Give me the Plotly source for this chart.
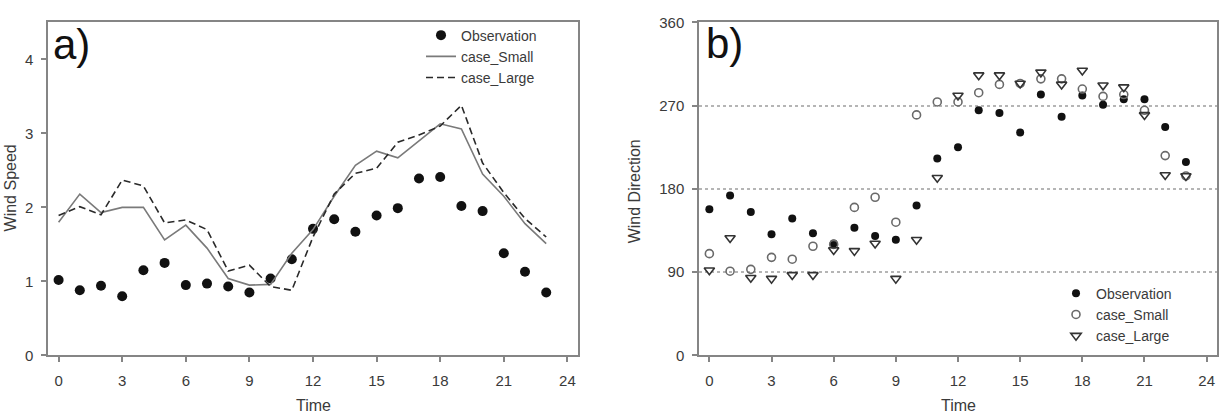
import plotly.graph_objects as go

# ---------------- data ----------------
hours = list(range(24))

speed_obs = [1.02, 0.88, 0.94, 0.80, 1.15, 1.25, 0.95, 0.97, 0.93, 0.85, 1.04, 1.30,
             1.71, 1.84, 1.67, 1.89, 1.99, 2.39, 2.41, 2.02, 1.95, 1.38, 1.13, 0.85]
speed_small = [1.80, 2.18, 1.93, 2.00, 2.00, 1.56, 1.76, 1.45, 1.04, 0.95, 0.96, 1.38,
               1.70, 2.15, 2.57, 2.76, 2.67, 2.90, 3.13, 3.06, 2.45, 2.15, 1.78, 1.51]
speed_large = [1.89, 2.01, 1.90, 2.37, 2.29, 1.79, 1.83, 1.70, 1.14, 1.22, 0.93, 0.88,
               1.60, 2.18, 2.46, 2.53, 2.88, 2.98, 3.10, 3.38, 2.60, 2.20, 1.85, 1.60]

dir_obs = [158, 173, 155, 131, 148, 132, 121, 138, 129, 125, 162, 213,
           225, 265, 262, 241, 282, 258, 281, 271, 277, 277, 247, 209]
dir_small = [110, 91, 93, 106, 104, 118, 120, 160, 171, 144, 260, 274,
             274, 284, 293, 294, 299, 299, 288, 280, 282, 265, 216, 194]
dir_large = [92, 127, 84, 83, 87, 87, 114, 113, 121, 83, 125, 192,
             281, 303, 303, 294, 306, 293, 308, 292, 290, 260, 195, 194]

time_ticks = [0, 3, 6, 9, 12, 15, 18, 21, 24]
speed_ticks = [0, 1, 2, 3, 4]
dir_ticks = [0, 90, 180, 270, 360]

# ---------------- layout helpers ----------------
W, H = 1224, 420


def px(x):
    return x / W


def py(y):
    return 1 - y / H


FONT = "Liberation Sans, Arial, sans-serif"
TXT = "#3a3a3a"
AX = "#858585"

fig = go.Figure()

# panel a
fig.add_trace(go.Scatter(x=hours, y=speed_obs, mode="markers", name="Observation",
                         marker=dict(color="#111111", size=10),
                         xaxis="x", yaxis="y", legend="legend"))
fig.add_trace(go.Scatter(x=hours, y=speed_small, mode="lines", name="case_Small",
                         line=dict(color="#7a7a7a", width=1.6),
                         xaxis="x", yaxis="y", legend="legend"))
fig.add_trace(go.Scatter(x=hours, y=speed_large, mode="lines", name="case_Large",
                         line=dict(color="#2a2a2a", width=1.6, dash="7px,4px"),
                         xaxis="x", yaxis="y", legend="legend"))

# panel b
fig.add_trace(go.Scatter(x=hours, y=dir_obs, mode="markers", name="Observation",
                         marker=dict(color="#111111", size=8),
                         xaxis="x2", yaxis="y2", legend="legend2"))
fig.add_trace(go.Scatter(x=hours, y=dir_small, mode="markers", name="case_Small",
                         marker=dict(symbol="circle-open", color="#6a6a6a", size=8,
                                     line=dict(width=1.6)),
                         xaxis="x2", yaxis="y2", legend="legend2"))
fig.add_trace(go.Scatter(x=hours, y=dir_large, mode="markers", name="case_Large",
                         marker=dict(symbol="triangle-down-open", color="#333333", size=9,
                                     line=dict(width=1.6)),
                         xaxis="x2", yaxis="y2", legend="legend2"))

common_axis = dict(showline=True, linecolor=AX, linewidth=1.5, mirror=True,
                   ticks="outside", ticklen=5, tickcolor=AX, tickwidth=1.5,
                   zeroline=False, tickfont=dict(family=FONT, size=15, color=TXT))

fig.update_layout(
    width=W, height=H, autosize=False,
    margin=dict(l=0, r=0, t=0, b=0),
    paper_bgcolor="white", plot_bgcolor="white",
    font=dict(family=FONT, color=TXT),
    xaxis=dict(domain=[px(48), px(578)], range=[-0.5, 24.5], tickvals=time_ticks,
               anchor="y", showgrid=False, ticklabelstandoff=6, **common_axis),
    yaxis=dict(domain=[py(361), py(14)], range=[0, 4.5], tickvals=speed_ticks,
               anchor="x", showgrid=False, ticklabelstandoff=5, **common_axis),
    xaxis2=dict(domain=[px(699), px(1217)], range=[-0.5, 24.5], tickvals=time_ticks,
                anchor="y2", showgrid=False, ticklabelstandoff=6, **common_axis),
    yaxis2=dict(domain=[py(361), py(14)], range=[0, 360], tickvals=dir_ticks,
                anchor="x2", showgrid=True, gridcolor="#b5b5b5", gridwidth=1.5,
                griddash="dot", ticklabelstandoff=5, **common_axis),
    legend=dict(x=px(421), y=py(11), xanchor="left", yanchor="top",
                bgcolor="rgba(0,0,0,0)", font=dict(family=FONT, size=14, color=TXT),
                tracegroupgap=0),
    legend2=dict(x=px(1056), y=py(280), xanchor="left", yanchor="top",
                 bgcolor="rgba(0,0,0,0)", font=dict(family=FONT, size=14, color=TXT),
                 tracegroupgap=0),
    annotations=[
        dict(text="a)", x=px(51), y=py(37), xref="paper", yref="paper",
             xanchor="left", yanchor="middle", showarrow=False,
             font=dict(family=FONT, size=42, color="#111111")),
        dict(text="b)", x=px(704), y=py(36), xref="paper", yref="paper",
             xanchor="left", yanchor="middle", showarrow=False,
             font=dict(family=FONT, size=42, color="#111111")),
        dict(text="Wind Speed", x=px(10), y=py(187), xref="paper", yref="paper",
             xanchor="center", yanchor="middle", textangle=-90, showarrow=False,
             font=dict(family=FONT, size=16, color=TXT)),
        dict(text="Wind Direction", x=px(634), y=py(190), xref="paper", yref="paper",
             xanchor="center", yanchor="middle", textangle=-90, showarrow=False,
             font=dict(family=FONT, size=16, color=TXT)),
        dict(text="Time", x=px(313), y=py(413), xref="paper", yref="paper",
             xanchor="center", yanchor="middle", showarrow=False,
             font=dict(family=FONT, size=16, color=TXT)),
        dict(text="Time", x=px(958), y=py(413), xref="paper", yref="paper",
             xanchor="center", yanchor="middle", showarrow=False,
             font=dict(family=FONT, size=16, color=TXT)),
    ],
)

fig.write_html("out.html")
